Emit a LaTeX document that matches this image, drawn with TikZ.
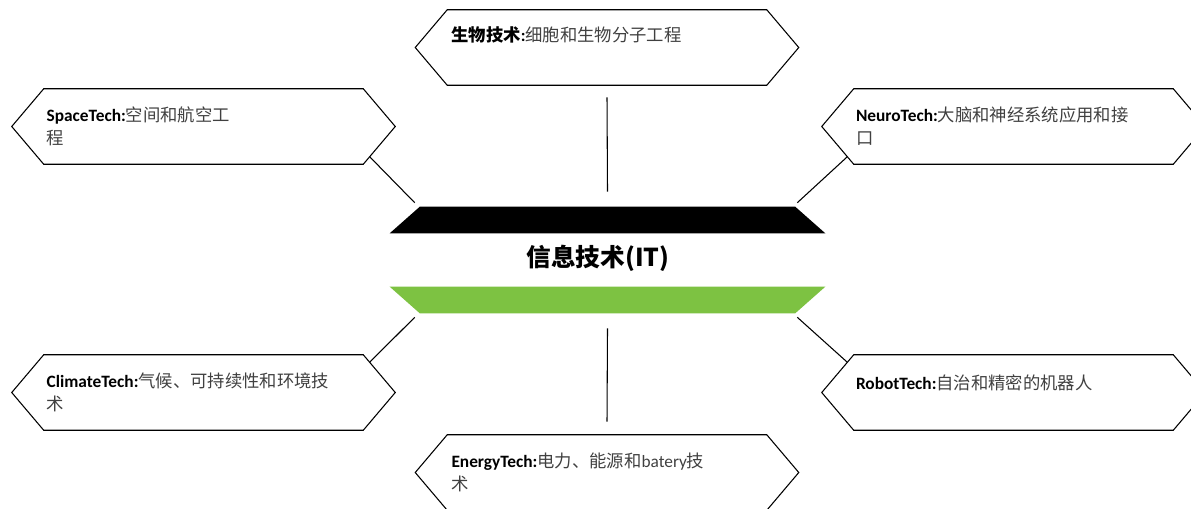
\documentclass[tikz,border=0pt]{standalone}
\usepackage{fontspec}
\setmainfont{Carlito}
\newfontfamily\cjk{Noto Sans CJK SC}
\usetikzlibrary{calc}
\definecolor{itgreen}{RGB}{125,194,66}
\definecolor{zhgray}{RGB}{64,64,64}
\newcommand\zh[1]{{\cjk\color{zhgray}#1}}
\newcommand\hexpath[1]{\draw[hexline] (#1.west) -- ([xshift=24pt]#1.north west) -- ([xshift=-24pt]#1.north east) -- (#1.east) -- ([xshift=-24pt]#1.south east) -- ([xshift=24pt]#1.south west) -- cycle;}
\tikzset{
  hexbox/.style={rectangle, inner sep=0, minimum width=287.25pt, minimum height=56.25pt},
  hexline/.style={draw=black, line width=0.8pt, line join=miter},
  barbox/.style={rectangle, inner sep=0, minimum width=326.25pt, minimum height=19.5pt},
  lbl/.style={inner sep=0, align=left, anchor=west, font=\fontsize{13pt}{17.25pt}\selectfont},
  conn/.style={draw=black, line width=0.8pt}
}
\begin{document}
\begin{tikzpicture}[x=0.75pt,y=-0.75pt]
\useasboundingbox (0,0) rectangle (1191,508);
\clip (0,0) rectangle (1191,508);
% hexagon frames
\node[hexbox] (bio) at (607,47.5) {};
\node[hexbox] (space) at (203.5,126.5) {};
\node[hexbox] (neuro) at (1013.5,126.5) {};
\node[hexbox] (climate) at (203.5,392.5) {};
\node[hexbox] (robot) at (1013.5,392.5) {};
\node[hexbox] (energy) at (607,472.5) {};
\hexpath{bio}
\hexpath{space}
\hexpath{neuro}
\hexpath{climate}
\hexpath{robot}
\hexpath{energy}
% central bars
\node[barbox] (itop) at (607.5,220) {};
\node[barbox] (ibot) at (607.5,300) {};
\fill[black] (itop.south west) -- ([xshift=22.5pt]itop.north west) -- ([xshift=-22.5pt]itop.north east) -- (itop.south east) -- cycle;
\fill[itgreen] (ibot.north west) -- ([xshift=22.5pt]ibot.south west) -- ([xshift=-22.5pt]ibot.south east) -- (ibot.north east) -- cycle;
\node[inner sep=0, font=\fontsize{18.5pt}{22pt}\selectfont\cjk\bfseries] (it) at (598,258) {信息技术(IT)};
% labels
\node[lbl] (bioT) at ([shift={(27pt,9.4pt)}]bio.west) {{\cjk\bfseries 生物技术}\textbf{:}\zh{细胞和生物分子工程}};
\node[lbl] (spaceT) at ([xshift=26pt]space.west) {\textbf{SpaceTech:}\zh{空间和航空工}\\\zh{程}};
\node[lbl] (neuroT) at ([xshift=25.5pt]neuro.west) {\textbf{NeuroTech:}\zh{大脑和神经系统应用和接}\\\zh{口}};
\node[lbl] (climateT) at ([xshift=26pt]climate.west) {\textbf{ClimateTech:}\zh{气候、可持续性和环境技}\\\zh{术}};
\node[lbl] (robotT) at ([shift={(25.5pt,7pt)}]robot.west) {\textbf{RobotTech:}\zh{自治和精密的机器人}};
\node[lbl] (energyT) at ([xshift=27pt]energy.west) {\textbf{EnergyTech:}\zh{电力、能源和}{\color{zhgray}batery}\zh{技}\\\zh{术}};
% connectors
\draw[conn] ($(space.east)!0.8!([xshift=-24pt]space.south east)$) -- ([shift={(18.75pt,3pt)}]itop.north west);
\draw[conn] ($(neuro.west)!0.8!([xshift=24pt]neuro.south west)$) -- ([shift={(-21pt,3pt)}]itop.north east);
\draw[conn] ($(climate.east)!0.8!([xshift=-24pt]climate.north east)$) -- ([shift={(18.75pt,-3pt)}]ibot.south west);
\draw[conn] ($(robot.west)!0.8!([xshift=24pt]robot.north west)$) -- ([shift={(-21pt,-3pt)}]ibot.south east);
\draw[conn] ([yshift=-9pt]bio.south) -- ([yshift=11.25pt]itop.north);
\draw[conn] ([yshift=-11.25pt]ibot.south) -- ([yshift=9.75pt]energy.north);
\end{tikzpicture}
\end{document}
